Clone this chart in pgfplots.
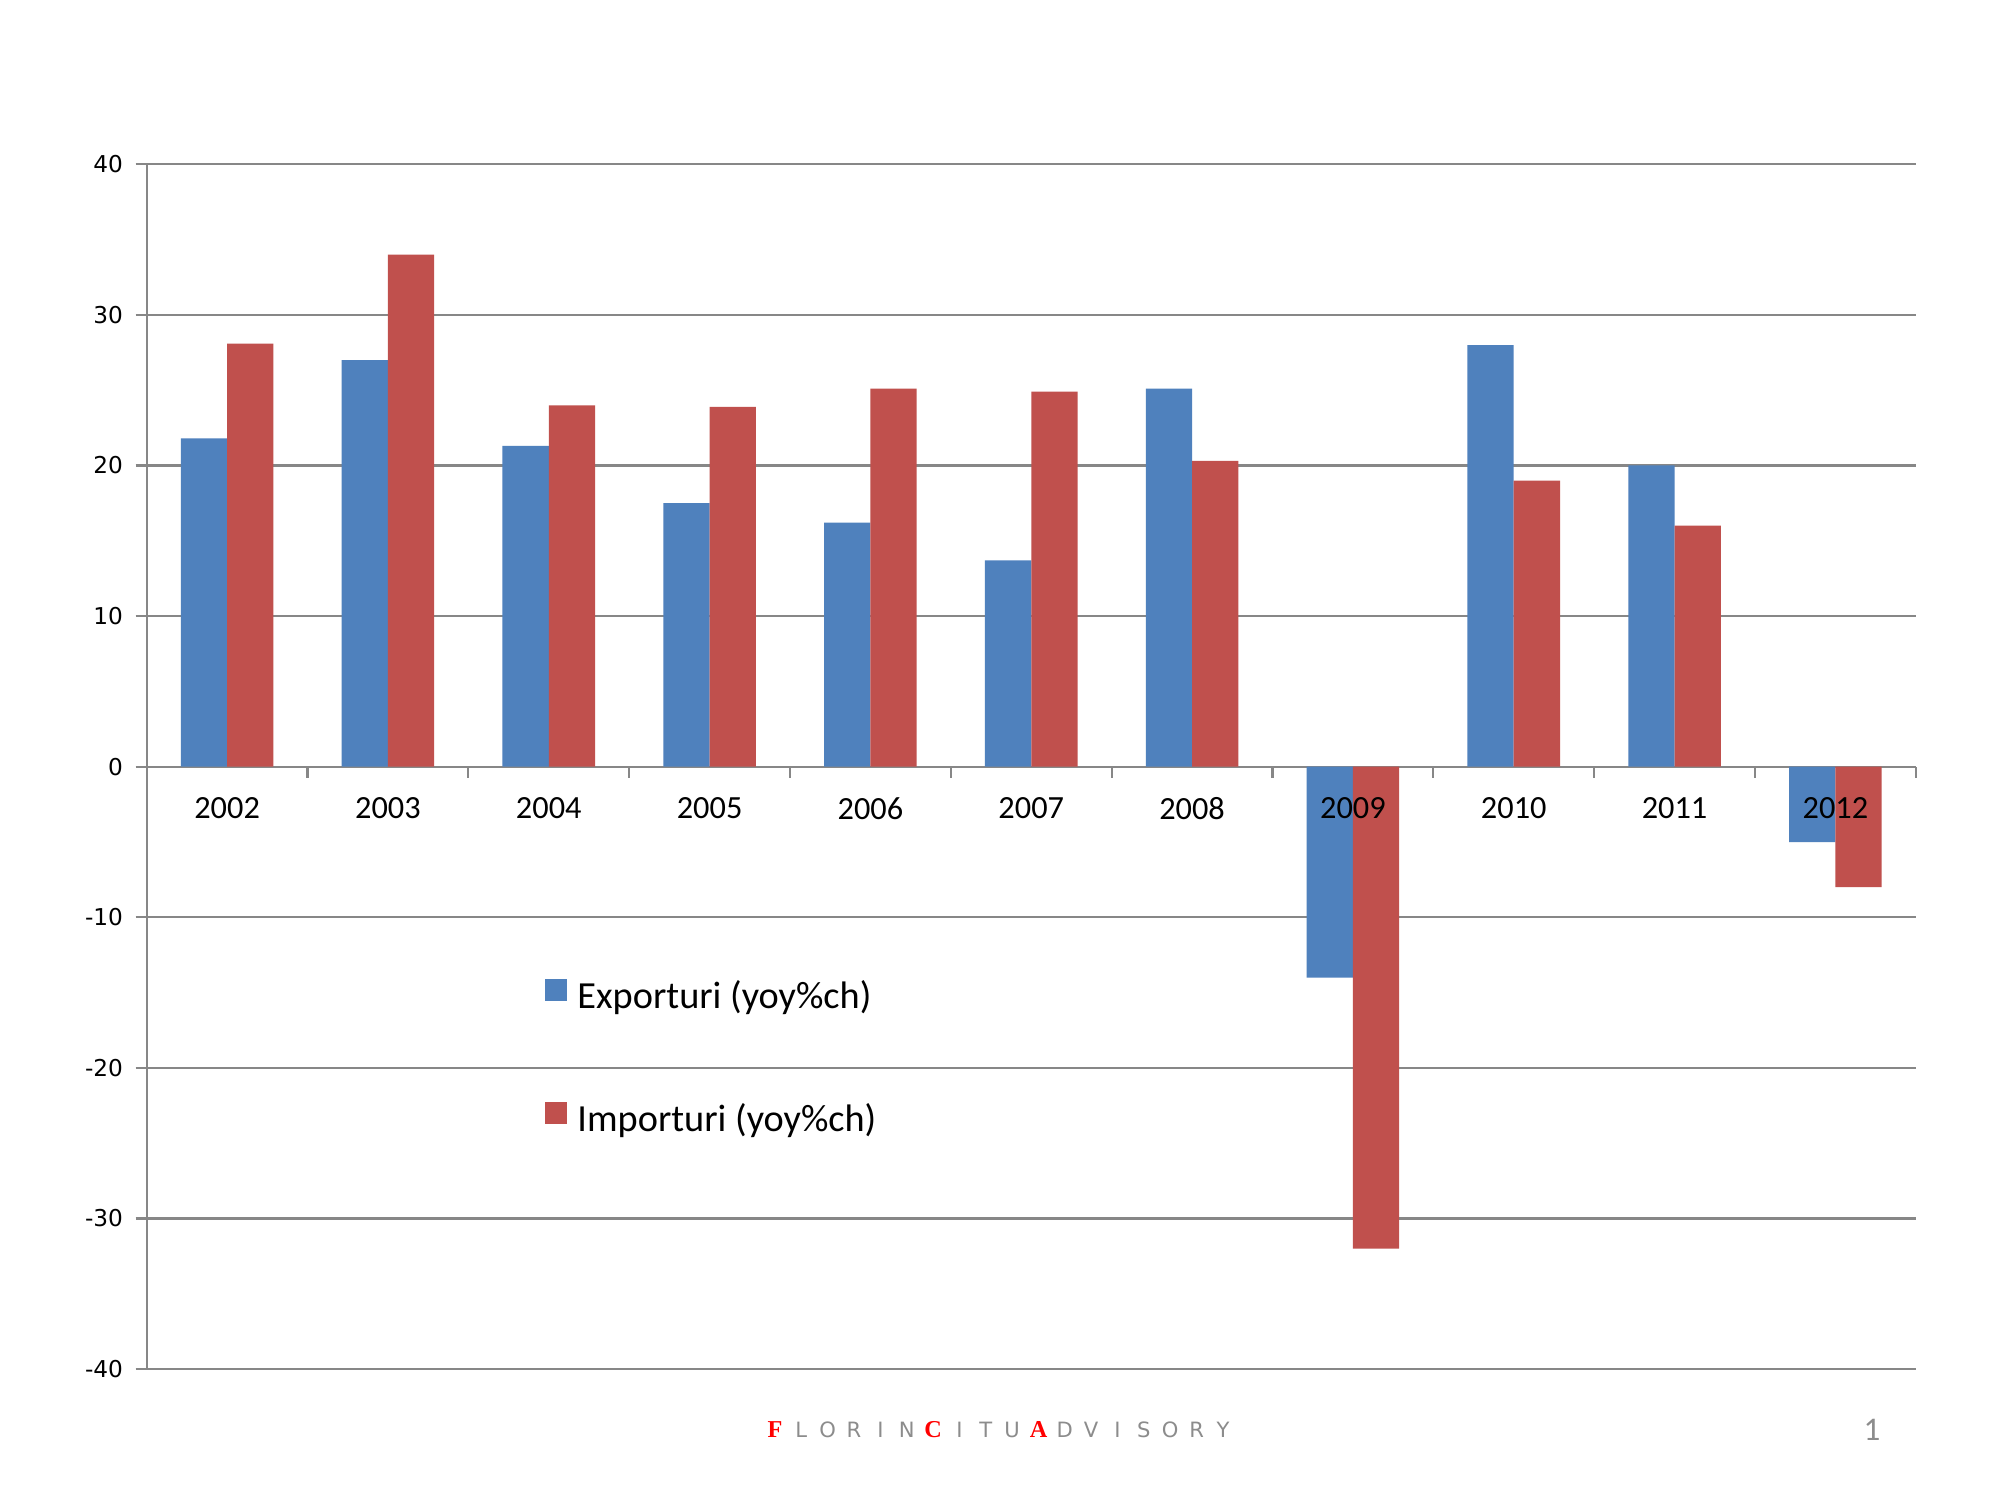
\documentclass[border=0pt]{standalone}
\usepackage{fontspec}
\setmainfont{Carlito}
\newfontfamily\dejavu{DejaVu Sans}
\newfontfamily\libsans{Liberation Sans}
\newfontfamily\libserif{Liberation Serif}
\usepackage{pgfplots}
\pgfplotsset{compat=1.18}
\definecolor{expblue}{HTML}{4F81BD}
\definecolor{impred}{HTML}{C0504D}
\definecolor{gridgray}{HTML}{878787}
\definecolor{footgray}{HTML}{8C8C8C}
\definecolor{footred}{HTML}{FF0000}
\begin{document}
\begin{tikzpicture}
\path[fill=white] (0,0) rectangle (200mm,150mm);
\begin{axis}[
  at={(14.67mm,13.09mm)}, anchor=south west,
  scale only axis, width=176.91mm, height=120.48mm,
  xmin=-0.5, xmax=10.5, ymin=-40, ymax=40,
  axis y line=left, axis x line=middle,
  axis line style={gridgray, line width=0.6pt, -},
  hide obscured x ticks=false, hide obscured y ticks=false,
  ytick={-40,-30,...,40},
  yticklabels={-40,-30,-20,-10,0,10,20,30,40},
  yticklabel style={font=\dejavu\fontsize{6.6}{8}\selectfont, anchor=east, inner sep=0pt, xshift=-1.2mm},
  ymajorgrids, major grid style={gridgray, line width=0.6pt},
  xtick={0,...,10},
  xticklabels={2002,2003,2004,2005,2006,2007,2008,2009,2010,2011,2012},
  xticklabel style={font=\fontsize{9.2}{11}\selectfont, anchor=center, inner sep=0pt, yshift=-3.05mm},
  tick align=outside,
  major tick length=1.1mm,
  tick style={gridgray, line width=0.6pt},
  xtick style={draw=none},
  extra x ticks={-0.5,0.5,...,10.5},
  extra x tick labels={},
  extra x tick style={xtick style={draw=gridgray, line width=0.6pt}},
  ybar=0pt, bar width=4.63mm,
  legend style={at={(0.225,0.2566)}, anchor=west, draw=none, fill=none, inner sep=0pt,
    row sep=8.4mm, column sep=1mm, font=\fontsize{10.9}{12}\selectfont,
    nodes={inner sep=0pt, text height=2.6mm, text depth=0.9mm}},
  legend cell align=left,
  legend image code/.code={\fill[#1] (0mm,-0.1mm) rectangle (2.2mm,2.1mm);},
]
\addplot[fill=expblue, draw=none] coordinates {(0,21.8)(1,27.0)(2,21.3)(3,17.5)(4,16.2)(5,13.7)(6,25.1)(7,-14.0)(8,28.0)(9,20.0)(10,-5.0)};
\addplot[fill=impred, draw=none] coordinates {(0,28.1)(1,34.0)(2,24.0)(3,23.9)(4,25.1)(5,24.9)(6,20.3)(7,-32.0)(8,19.0)(9,16.0)(10,-8.0)};
\legend{Exporturi (yoy\%ch), Importuri (yoy\%ch)}
\node[anchor=center, inner sep=0pt, font=\fontsize{9.2}{11}\selectfont, yshift=-4.15mm] at (axis cs:7,0) {2009};
\node[anchor=center, inner sep=0pt, font=\fontsize{9.2}{11}\selectfont, yshift=-4.15mm] at (axis cs:10,0) {2012};
\end{axis}
\foreach \l/\c [count=\i] in {F/1,L/0,O/0,R/0,I/0,N/0,C/1,I/0,T/0,U/0,A/1,D/0,V/0,I/0,S/0,O/0,R/0,Y/0}{
  \pgfmathsetmacro\xx{77.5+2.635*(\i-1)}
  \ifnum\c=1
    \node[anchor=base, inner sep=0pt, text=footred, font=\libserif\bfseries\fontsize{6.9}{8}\selectfont] at (\xx mm,6.22mm) {\l};
  \else
    \node[anchor=base, inner sep=0pt, text=footgray, font=\dejavu\fontsize{6}{7}\selectfont] at (\xx mm,6.25mm) {\l};
  \fi
}
\node[anchor=base, inner sep=0pt, text=footgray, font=\fontsize{9.4}{11}\selectfont] at (187.2mm,5.93mm) {1};
\end{tikzpicture}
\end{document}
